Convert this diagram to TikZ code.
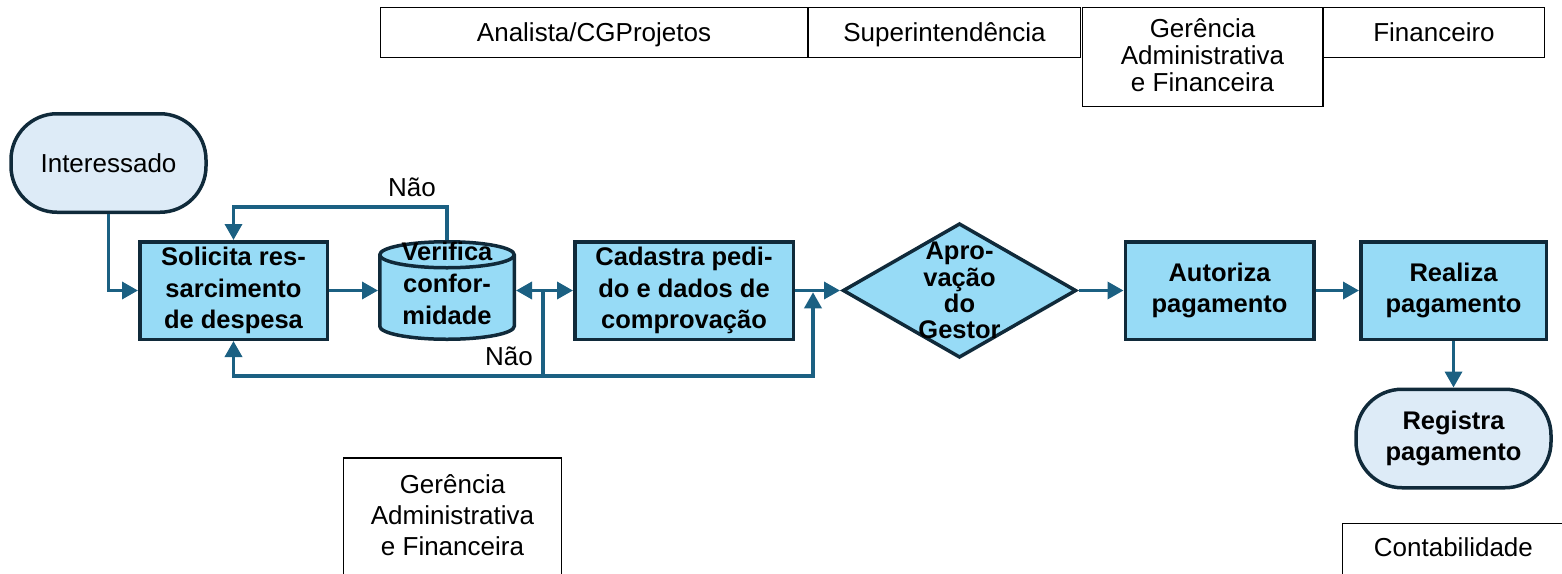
\documentclass[tikz,border=0pt]{standalone}
\usepackage{fontspec}
\setmainfont{Liberation Sans}
\usetikzlibrary{arrows.meta,backgrounds}

\definecolor{taskfill}{RGB}{151,219,246}
\definecolor{termfill}{RGB}{221,235,247}
\definecolor{shapeline}{RGB}{16,42,58}
\definecolor{flowline}{RGB}{27,96,130}

\begin{document}
\begin{tikzpicture}[x=1pt,y=-1pt,>={Triangle[length=16pt,width=17pt]},
  lane/.style={draw=black,line width=1.4pt,fill=white,inner sep=0pt,align=center,
    font=\fontsize{26}{27}\selectfont},
  task/.style={draw=shapeline,line width=3.5pt,fill=taskfill,inner sep=0pt,
    minimum height=97.5pt,align=center,font=\fontsize{25.5}{31.5}\selectfont\bfseries},
  term/.style={draw=shapeline,line width=3.5pt,fill=termfill,rounded corners=46pt,
    minimum width=195pt,minimum height=98.5pt,inner sep=0pt,align=center},
  outline/.style={draw=shapeline,line width=3.5pt,fill=taskfill,line join=miter},
  link/.style={draw=flowline,line width=3.5pt},
  note/.style={font=\fontsize{26}{27}\selectfont}]

\path[use as bounding box] (0,0) rectangle (1562,573);
\clip (0,0) rectangle (1562,573);

% areas
\node[lane,minimum width=426.6pt,minimum height=49.6pt,text depth=0pt] (ana) at (594,32.5) {Analista/CGProjetos};
\node[lane,minimum width=271.6pt,minimum height=49.6pt,text depth=0pt] (sup) at (944.5,32.5) {Superintendência};
\node[lane,minimum width=240.6pt,minimum height=98.6pt,text depth=3pt] (gaf) at (1202.5,57) {Gerência\\Administrativa\\e Financeira};
\node[lane,minimum width=220.6pt,minimum height=49.6pt,text depth=0pt] (fin) at (1434,32.5) {Financeiro};
\node[lane,minimum width=217.6pt,minimum height=140pt,text depth=26pt,font=\fontsize{26}{31}\selectfont] (gaf2) at (452.5,528) {Gerência\\Administrativa\\e Financeira};
\node[lane,minimum width=222pt,minimum height=53.6pt,text depth=7pt,anchor=north west] (cont) at (1341.7,522.7) {Contabilidade};

% steps
\node[term,font=\fontsize{26}{27}\selectfont] (inter) at (108.5,163) {Interessado};
\node[task,minimum width=187.5pt] (solic) at (233.5,290.5) {Solicita res-\\sarcimento\\de despesa};
\node[task,draw=none,fill=none,minimum width=134.5pt,outer sep=1.75pt,text depth=14pt,
  font=\fontsize{25.5}{32}\selectfont\bfseries] (verif) at (447,290.5) {Verifica\\confor-\\midade};
\node[task,minimum width=218.5pt] (cad) at (684,290.5) {Cadastra pedi-\\do e dados de\\comprovação};
\node[task,draw=none,fill=none,minimum width=232pt,minimum height=133pt,outer sep=3.5pt,
  font=\fontsize{25.5}{26.3}\selectfont\bfseries] (apro) at (959.5,290.5) {Apro-\\vação\\do\\Gestor};
\node[task,minimum width=188.5pt] (aut) at (1219.5,290.5) {Autoriza\\pagamento};
\node[task,minimum width=185.5pt] (real) at (1453.5,290.5) {Realiza\\pagamento};
\node[term,font=\fontsize{25.5}{31}\selectfont\bfseries] (reg) at (1453.5,438.5) {Registra\\pagamento};

\begin{scope}[on background layer,shift={(verif.center)}]
  \draw[outline] (-67.25,-35.75) -- (-67.25,35.75)
    arc[start angle=180,end angle=360,x radius=67.25pt,y radius=13pt] -- (67.25,-35.75)
    arc[start angle=0,end angle=180,x radius=67.25pt,y radius=13pt] -- cycle;
  \draw[outline,fill=none] (-67.25,-35.75)
    arc[start angle=180,end angle=360,x radius=67.25pt,y radius=13pt];
\end{scope}
\begin{scope}[on background layer,shift={(apro.center)}]
  \draw[outline] (0,-66.5) -- (116,0) -- (0,66.5) -- (-116,0) -- cycle;
\end{scope}

% flows
\draw[link,->] (inter.south) |- (solic.west);
\draw[link,->] (solic.east) -- (verif.west);
\draw[link,->] (verif.north) -- ++(0,-33) -| (solic.north);
\node[note] (nao1) at (412,187) {Não};
\draw[link,<->] (verif.east) -- (cad.west);
\coordinate (jA) at (543,290.5);
\coordinate (jB) at (813,290.5);
\coordinate (jC) at (543,376);
\draw[link] (jA) -- (jC);
\draw[link,->] (jC) -| (solic.south);
\draw[link,->] (jC) -| ([yshift=-1.75pt]jB);
\node[note] (nao2) at (509,356) {Não};
\foreach \a/\b in {cad/apro,apro/aut,aut/real}
    \draw[link,->] (\a.east) -- (\b.west);
\draw[link,->] (real.south) -- (reg.north);
\end{tikzpicture}
\end{document}
